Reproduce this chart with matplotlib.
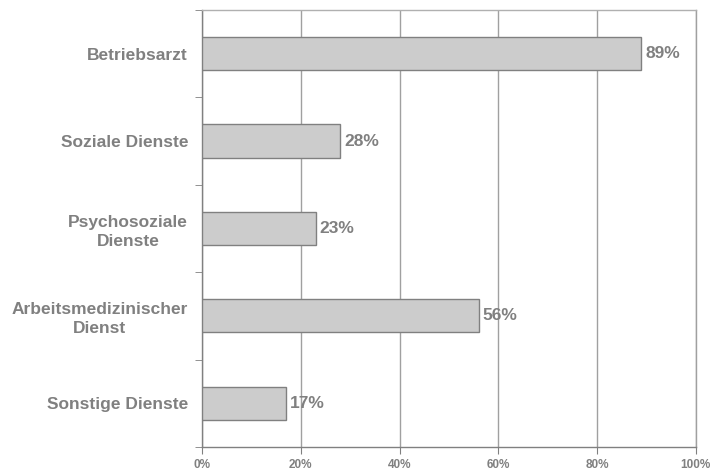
import numpy as np
import matplotlib.pyplot as plt
from matplotlib.ticker import FixedLocator

plt.rcParams['font.family'] = ['Liberation Sans', 'DejaVu Sans']

categories = ['Betriebsarzt', 'Soziale Dienste', 'Psychosoziale\nDienste',
              'Arbeitsmedizinischer\nDienst', 'Sonstige Dienste']
values = [89, 28, 23, 56, 17]
xticks = [0, 20, 40, 60, 80, 100]

grey = '#808080'

fig = plt.figure(figsize=(7.1, 4.73), dpi=100)
ax = fig.add_axes([0.2845, 0.055, 0.6955, 0.924])

y = np.arange(len(categories))
ax.barh(y, values, height=0.38, color='#cccccc', edgecolor=grey, linewidth=1, zorder=3)
for yi, v in zip(y, values):
    ax.text(v + 0.8, yi, f'{v}%', va='center', ha='left', fontsize=12.5,
            fontweight='bold', color=grey)

ax.set_xlim(0, 100)
ax.set_ylim(len(categories) - 0.5, -0.5)
ax.set_xticks(xticks)
ax.set_xticklabels([f'{t}%' for t in xticks], fontsize=8.5, fontweight='bold', color=grey)
ax.set_yticks(y)
ax.set_yticklabels(categories, fontsize=12.5, fontweight='bold', color=grey,
                   multialignment='center', linespacing=1.3)
ax.tick_params(axis='y', length=0, pad=10)
# short ticks between the category bands
ax.yaxis.set_minor_locator(FixedLocator(np.arange(-0.5, len(categories), 1)))
ax.tick_params(axis='y', which='minor', length=5, color=grey, direction='out')
ax.tick_params(axis='x', length=5, color=grey, direction='out', pad=4)

ax.grid(axis='x', color='#a0a0a0', linewidth=1, zorder=0)
for side in ['left', 'bottom', 'top', 'right']:
    ax.spines[side].set_color(grey)
    ax.spines[side].set_linewidth(1)
ax.spines['top'].set_color('#b0b0b0')
ax.spines['right'].set_color('#a0a0a0')

fig.savefig('out.png', dpi=100)
